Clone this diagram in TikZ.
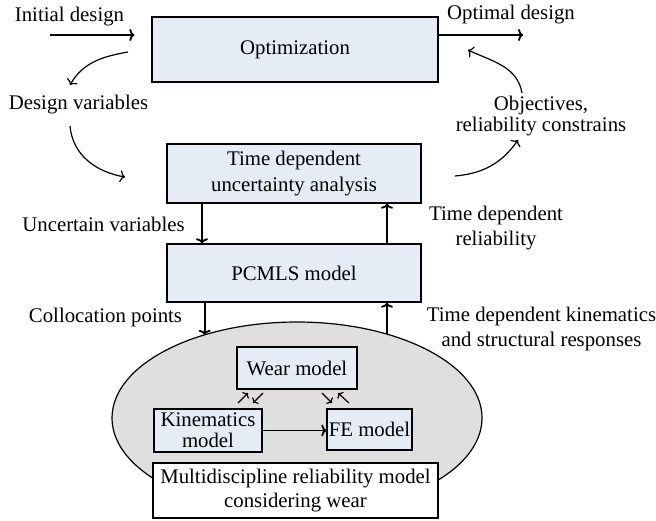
\documentclass[tikz,border=0pt]{standalone}
\usepackage{fontspec}
\setmainfont{Liberation Serif}
\usetikzlibrary{arrows.meta,shapes.geometric}
\definecolor{boxblue}{RGB}{229,236,246}
\definecolor{ovalgray}{RGB}{223,223,223}
\begin{document}
\begin{tikzpicture}[x=0.5pt,y=-0.5pt,
  font=\fontsize{10.4}{12.5}\selectfont,
  >={To[length=2.5pt,width=6pt]},
  blk/.style={draw,line width=0.7pt,fill=boxblue,inner sep=0pt,align=center},
  lbl/.style={align=center,inner sep=0pt},
  flow/.style={->,line width=0.9pt},
  curv/.style={->,line width=0.6pt},
  tiny/.style={->,line width=0.6pt,>={To[length=2pt,width=4.5pt]}}]
\useasboundingbox (0,0) rectangle (656,520);
\node[ellipse,draw,fill=ovalgray,line width=0.6pt,minimum width=185pt,minimum height=96pt,inner sep=0pt,outer sep=0pt] (sys) at (297,418) {};
\node[blk,minimum width=143pt,minimum height=32.5pt] (opt) at (295,49.5) {Optimization};
\node[blk,minimum width=127pt,minimum height=29.5pt,font=\fontsize{10.4}{13}\selectfont] (tdua) at (294,173.5) {Time dependent\\uncertainty analysis};
\node[blk,minimum width=127pt,minimum height=29pt] (pcmls) at (294,273) {PCMLS model};
\node[blk,minimum width=60pt,minimum height=21pt] (wear) at (297,368) {Wear model};
\node[blk,minimum width=54pt,minimum height=21.5pt,font=\fontsize{10.4}{10.5}\selectfont] (kin) at (208,430.5) {Kinematics\\model};
\node[blk,minimum width=42.5pt,minimum height=20.5pt] (fe) at (369.5,429.5) {FE model};
\node[blk,fill=white,minimum width=142.5pt,minimum height=27.5pt,font=\fontsize{10.4}{12}\selectfont] (multi) at (295.5,490.5) {Multidiscipline reliability model\\considering wear};
\node[lbl] (init) at (69.5,17) {Initial design};
\node[lbl] (best) at (511,15) {Optimal design};
\node[lbl] (dv) at (78.5,105) {Design variables};
\node[lbl,font=\fontsize{10.4}{8.5}\selectfont] (obj) at (541,116) {Objectives,\\reliability constrains};
\node[lbl] (uv) at (103.5,224) {Uncertain variables};
\node[lbl] (rel) at (496,228) {Time dependent\\reliability};
\node[lbl] (cp) at (105.5,317) {Collocation points};
\node[lbl] (resp) at (541.5,328.5) {Time dependent kinematics\\and structural responses};
\coordinate (in0) at (50,35);
\coordinate (out1) at (523,35);
\coordinate (c1a) at (128,52);
\coordinate (c1b) at (70,85);
\coordinate (c2a) at (70,126);
\coordinate (c2b) at (125,177);
\coordinate (c3a) at (455,176);
\coordinate (c3b) at (518,140);
\coordinate (c4a) at (522,93);
\coordinate (c4b) at (468,50);
\coordinate (w1a) at (238,403);
\coordinate (w1b) at (248,393);
\coordinate (w2a) at (263,393);
\coordinate (w2b) at (253,403);
\coordinate (w3a) at (322,393);
\coordinate (w3b) at (332,403);
\coordinate (w4a) at (349,403);
\coordinate (w4b) at (338,393);
\draw[flow,shorten >=8.5pt] (in0) -- (in0 -| opt.west);
\draw[flow] (opt.east |- out1) -- (out1);
\draw[curv] (c1a) to[out=190,in=60] (c1b);
\draw[curv] (c2a) to[out=-85,in=170] (c2b);
\draw[curv] (c3a) to[out=5,in=235] (c3b);
\draw[curv] (c4a) to[out=100,in=-25] (c4b);
\draw[flow] ([xshift=-46pt]tdua.south) -- ([xshift=-46pt]pcmls.north);
\draw[flow] ([xshift=46.5pt]pcmls.north) -- ([xshift=46.5pt]tdua.south);
\draw[flow] (sys.138.6 |- pcmls.south) -- (sys.138.6);
\draw[flow] (sys.43) -- (sys.43 |- pcmls.south);
\draw[flow] (kin.east) -- (kin.east -| fe.west);
\draw[tiny] (w1a) -- (w1b);
\draw[tiny] (w2a) -- (w2b);
\draw[tiny] (w3a) -- (w3b);
\draw[tiny] (w4a) -- (w4b);
\end{tikzpicture}
\end{document}
